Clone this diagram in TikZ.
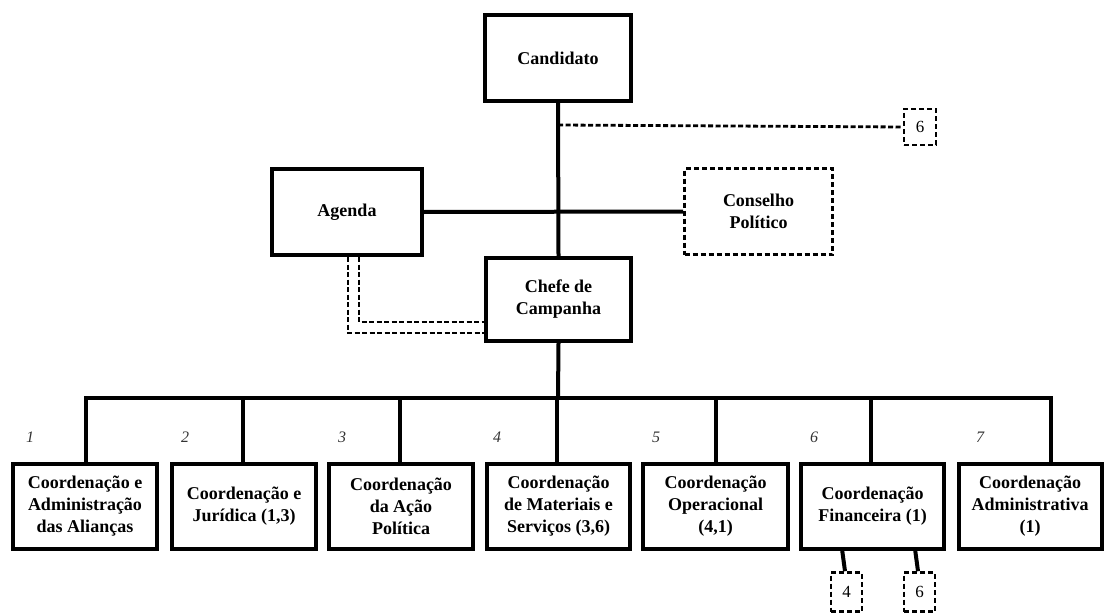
\documentclass[tikz,border=0pt]{standalone}
\usepackage{fontspec}
\setmainfont{Liberation Serif}
\begin{document}
\begin{tikzpicture}[x=1pt,y=-1pt,
  txt/.style={align=center,font=\fontsize{18}{22}\selectfont\bfseries,inner sep=0pt},
  solidbox/.style={txt,draw,line width=4pt},
  dashbox/.style={txt,draw,line width=2.6pt,dash pattern=on 5pt off 3pt},
  smallbox/.style={dashbox,font=\fontsize{17}{20}\selectfont},
  conn/.style={line width=4pt},
  dconn/.style={line width=2.8pt,dash pattern=on 5pt off 2.5pt},
  numlabel/.style={font=\fontsize{16}{16}\selectfont\itshape,text=black!80,inner sep=0pt}]
\useasboundingbox (0,0) rectangle (1108,615);
% top level
\node[solidbox,minimum width=146pt,minimum height=86pt] (cand) at (558,58) {Candidato};
\node[solidbox,minimum width=150pt,minimum height=86pt] (agenda) at (347,212) {Agenda};
\node[dashbox,minimum width=148pt,minimum height=86pt] (cons) at (758.5,211.5) {Conselho\\Político};
\node[solidbox,minimum width=145pt,minimum height=83pt] (chefe) at (558.5,299.5) {Chefe de\\Campanha};
\node[smallbox,minimum width=32pt,minimum height=36pt] (six) at (920,127) {6};
% bottom level
\node[solidbox,minimum width=144pt,minimum height=85pt] (b1) at (85,506.5) {Coordenação e\\Administração\\das Alianças};
\node[solidbox,minimum width=144pt,minimum height=85pt] (b2) at (244,506.5) {Coordenação e\\Jurídica (1,3)};
\node[solidbox,minimum width=144pt,minimum height=85pt] (b3) at (401,506.5) {Coordenação\\da Ação\\Política};
\node[solidbox,minimum width=143pt,minimum height=85pt] (b4) at (558.5,506.5) {Coordenação\\de Materiais e\\Serviços (3,6)};
\node[solidbox,minimum width=145pt,minimum height=85pt] (b5) at (715.5,506.5) {Coordenação\\Operacional\\(4,1)};
\node[solidbox,minimum width=143pt,minimum height=85pt] (b6) at (872.5,506.5) {Coordenação\\Financeira (1)};
\node[solidbox,minimum width=143pt,minimum height=85pt] (b7) at (1030,506.5) {Coordenação\\Administrativa\\(1)};
\node[smallbox,minimum width=31pt,minimum height=39pt] (s4) at (846.5,592) {4};
\node[smallbox,minimum width=31pt,minimum height=39pt] (s6) at (919.5,592) {6};
% number labels
\node[numlabel] (n1) at (30,437) {1};
\node[numlabel] (n2) at (185,437) {2};
\node[numlabel] (n3) at (342,437) {3};
\node[numlabel] (n4) at (497,437) {4};
\node[numlabel] (n5) at (656,437) {5};
\node[numlabel] (n6) at (814,437) {6};
\node[numlabel] (n7) at (980,437) {7};
% coordinates
\coordinate (tap) at (558,125);
\coordinate (busL) at (86,398);
\coordinate (busR) at (1051,398);
\coordinate (busM) at (558,398);
\coordinate (d1) at (86,398);
\coordinate (d2) at (243,398);
\coordinate (d3) at (400,398);
\coordinate (d4) at (557,398);
\coordinate (d5) at (716,398);
\coordinate (d6) at (871,398);
\coordinate (d7) at (1051,398);
\coordinate (f4) at (842,549);
\coordinate (f6) at (915,549);
% connectors
\draw[conn] (cand.south) -- (chefe.north);
\draw[conn] (agenda.east) -- (cons.west);
\draw[dconn] (tap) -- (six.west);
\draw[conn] (chefe.south) -- (busM);
\draw[conn,line cap=rect] (busL) -- (busR);
\foreach \i in {1,...,7}{\draw[conn] (d\i) -- (d\i |- b\i.north);}
\draw[dconn] (agenda.south -| 348,0) |- (chefe.west |- 0,333);
\draw[dconn] (agenda.south -| 359,0) |- (chefe.west |- 0,322);
\draw[conn] (f4) -- (s4.north -| 845,0);
\draw[conn] (f6) -- (s6.north -| 918,0);
\end{tikzpicture}
\end{document}
